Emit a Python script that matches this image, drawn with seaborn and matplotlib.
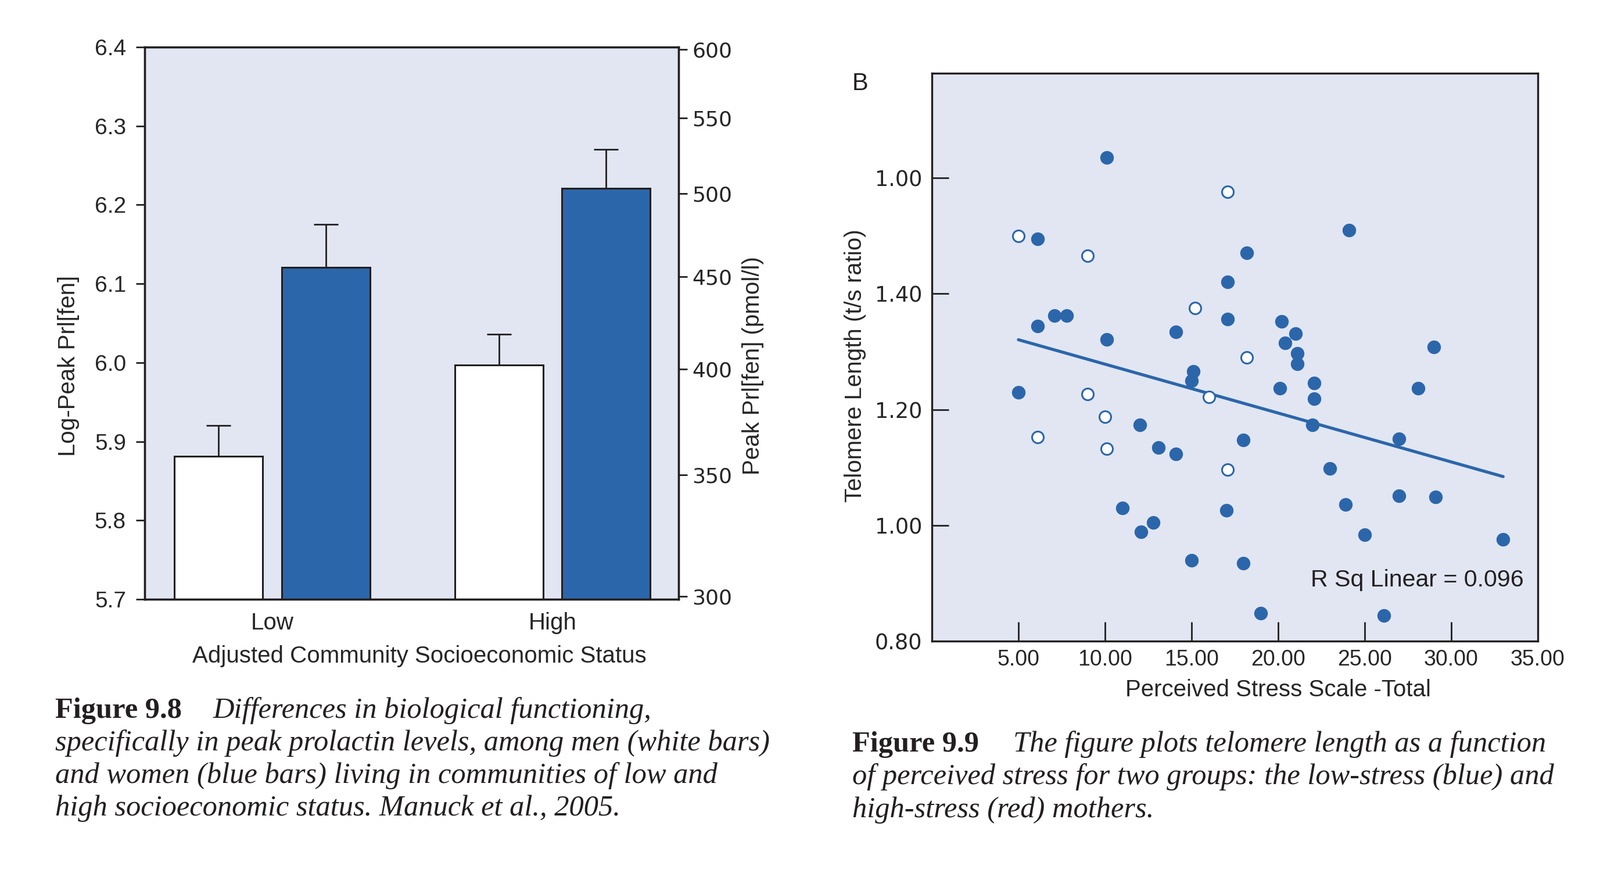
import numpy as np
import pandas as pd
import seaborn as sns
import matplotlib.pyplot as plt

# ---- Figure 9.8 : peak prolactin by community SES ----
ses = ['Low', 'Low', 'High', 'High']
sex = ['Men', 'Women', 'Men', 'Women']
log_prl = [5.881, 6.121, 5.997, 6.221]
log_prl_err = [0.039, 0.054, 0.039, 0.049]
peak_ticks = [300, 350, 400, 450, 500, 550, 600]

# ---- Figure 9.9 : telomere length vs perceived stress ----
stress_filled = [10.1, 6.1, 24.1, 18.2, 17.1, 7.1, 7.8, 6.1, 14.1, 10.1, 17.1, 20.2,
                 21.0, 20.4, 21.1, 21.1, 29.0, 15.1, 15.0, 5.0, 20.1, 22.1, 22.1, 28.1,
                 22.0, 12.0, 18.0, 27.0, 13.1, 14.1, 23.0, 11.0, 17.0, 23.9, 27.0, 29.1,
                 12.8, 12.1, 25.0, 33.0, 15.0, 18.0, 19.0, 26.1]
telomere_filled = [1.635, 1.495, 1.510, 1.471, 1.420, 1.362, 1.362, 1.344, 1.334, 1.321,
                   1.356, 1.352, 1.331, 1.315, 1.297, 1.279, 1.308, 1.266, 1.250, 1.230,
                   1.237, 1.246, 1.219, 1.237, 1.173, 1.173, 1.147, 1.149, 1.134, 1.123,
                   1.098, 1.030, 1.026, 1.036, 1.051, 1.049, 1.005, 0.989, 0.984, 0.976,
                   0.940, 0.934, 0.848, 0.844]
stress_open = [17.1, 5.0, 9.0, 15.2, 18.2, 9.0, 16.0, 10.0, 6.1, 10.1, 17.1]
telomere_open = [1.576, 1.500, 1.466, 1.375, 1.290, 1.227, 1.222, 1.188, 1.152, 1.132, 1.096]
telo_ticks = [0.80, 1.00, 1.20, 1.40, 1.60]
telo_ticklabels = ['0.80', '1.00', '1.20', '1.40', '1.00']
stress_ticks = [5, 10, 15, 20, 25, 30, 35]

blue = '#2C66AA'
panel_bg = '#E1E6F2'
ink = '#231F20'

sns.set_style('white')
plt.rcParams['font.family'] = ['Liberation Sans', 'DejaVu Sans']
narrow = ['Liberation Sans Narrow', 'Liberation Sans']
wide = ['DejaVu Sans']

fig = plt.figure(figsize=(13.77, 7.57), dpi=200)

# ---------------- left panel ----------------
ax1 = fig.add_axes([0.0904, 0.3190, 0.3337, 0.6275])
ax1.set_facecolor(panel_bg)
bars = pd.DataFrame({'ses': ses, 'sex': sex, 'log_prl': log_prl, 'err': log_prl_err})
sns.barplot(data=bars, x='ses', y='log_prl', hue='sex', order=['Low', 'High'],
            hue_order=['Men', 'Women'], palette={'Men': 'white', 'Women': blue},
            width=0.764, gap=0.175, edgecolor=ink, linewidth=1.1, errorbar=None,
            legend=False, saturation=1, ax=ax1)
for cont, s in zip(ax1.containers, ['Men', 'Women']):
    for bar, lvl in zip(cont, ['Low', 'High']):
        row = bars[(bars.sex == s) & (bars.ses == lvl)].iloc[0]
        ax1.errorbar(bar.get_x() + bar.get_width() / 2, row.log_prl,
                     yerr=[[0], [row.err]], fmt='none', ecolor=ink,
                     elinewidth=1.0, capsize=7.5, capthick=1.0, zorder=1)
ax1.set_xlim(-0.455, 1.450)
ax1.set_ylim(5.7, 6.4)
ax1.set_yticks(np.arange(5.7, 6.41, 0.1))
ax1.set_yticklabels([f'{v:.1f}' for v in np.arange(5.7, 6.41, 0.1)], fontsize=14)
ax1.tick_params(axis='y', direction='out', length=5.5, width=1, color=ink, pad=6, left=True)
ax1.tick_params(axis='x', length=0, pad=8, labelsize=14.5)
ax1.set_xlabel('Adjusted Community Socioeconomic Status', fontsize=14.5)
ax1.set_ylabel('Log-Peak Prl[fen]', fontsize=14.5)
ax1.xaxis.set_label_coords(0.515, -0.103)
ax1.xaxis.label.set_va('center')
ax1.yaxis.set_label_coords(-0.1425, 0.423)
ax1.yaxis.label.set_va('center')
for sp in ax1.spines.values():
    sp.set_color(ink)
    sp.set_linewidth(1.2)

ax1r = ax1.twinx()
ax1r.set_ylim(5.7, 6.4)
ax1r.set_yticks(np.log(peak_ticks))
ax1r.set_yticklabels([str(v) for v in peak_ticks], fontsize=13, family=wide)
ax1r.tick_params(axis='y', direction='out', length=5.5, width=1, color=ink, pad=3, right=True)
ax1r.set_ylabel('Peak Prl[fen] (pmol/l)', fontsize=14.5, family=narrow)
ax1r.yaxis.set_label_coords(1.139, 0.423)
ax1r.yaxis.label.set_va('center')
for sp in ax1r.spines.values():
    sp.set_color(ink)
    sp.set_linewidth(1.2)

# ---------------- right panel ----------------
ax2 = fig.add_axes([0.5824, 0.2715, 0.3787, 0.6453])
ax2.set_facecolor(panel_bg)
pts = pd.DataFrame({
    'stress': stress_filled + stress_open,
    'telomere': telomere_filled + telomere_open,
    'group': ['filled'] * len(stress_filled) + ['open'] * len(stress_open),
})
sns.regplot(data=pts, x='stress', y='telomere', scatter=False, ci=None, truncate=True,
            line_kws=dict(color=blue, lw=1.9), ax=ax2)
sns.scatterplot(data=pts[pts.group == 'filled'], x='stress', y='telomere',
                color=blue, edgecolor=blue, linewidth=0.8, s=58, ax=ax2, zorder=3)
sns.scatterplot(data=pts[pts.group == 'open'], x='stress', y='telomere',
                color='white', edgecolor=blue, linewidth=1.1, s=52, ax=ax2, zorder=3)
ax2.set_xlim(0, 35)
ax2.set_ylim(0.8, 1.781)
ax2.set_xticks(stress_ticks)
ax2.set_xticklabels([f'{v:.2f}' for v in stress_ticks], fontsize=13.5, family=narrow)
ax2.set_yticks(telo_ticks)
ax2.set_yticklabels(telo_ticklabels, fontsize=13.2, family=wide)
ax2.tick_params(axis='y', direction='in', length=10.5, width=1, color=ink, pad=6, left=True)
ax2.tick_params(axis='x', direction='in', length=12, width=1, color=ink, pad=5, bottom=True)
ax2.set_xlabel('Perceived Stress Scale -Total', fontsize=14.5, family=narrow)
ax2.set_ylabel('Telomere Length (t/s ratio)', fontsize=14.5, family=narrow)
ax2.xaxis.set_label_coords(0.572, -0.086)
ax2.xaxis.label.set_va('center')
ax2.yaxis.set_label_coords(-0.1266, 0.485)
ax2.yaxis.label.set_va('center')
for sp in ax2.spines.values():
    sp.set_color(ink)
    sp.set_linewidth(1.2)
ax2.text(34.2, 0.905, 'R Sq Linear = 0.096', ha='right', va='center', fontsize=14.8, color=ink)
fig.text(1480 / 2754, 1 - 144 / 1514, 'B', fontsize=15, ha='center', va='center', color=ink)

# ---------------- captions ----------------
serif = ['Liberation Serif', 'DejaVu Serif']
cap_kw = dict(fontsize=18.2, family=serif, color=ink, va='baseline')
fig.text(95 / 2754, 1 - 1235 / 1514, 'Figure 9.8', fontweight='bold', **cap_kw)
fig.text(367 / 2754, 1 - 1235 / 1514, 'Differences in biological functioning,',
         style='italic', **cap_kw)
for i, line in enumerate(['specifically in peak prolactin levels, among men (white bars)',
                          'and women (blue bars) living in communities of low and',
                          'high socioeconomic status. Manuck et al., 2005.']):
    fig.text(95 / 2754, 1 - (1291 + 56 * i) / 1514, line, style='italic', **cap_kw)

fig.text(1467 / 2754, 1 - 1293 / 1514, 'Figure 9.9', fontweight='bold', **cap_kw)
fig.text(1744 / 2754, 1 - 1293 / 1514, 'The figure plots telomere length as a function',
         style='italic', **cap_kw)
for i, line in enumerate(['of perceived stress for two groups: the low-stress (blue) and',
                          'high-stress (red) mothers.']):
    fig.text(1467 / 2754, 1 - (1349 + 57 * i) / 1514, line, style='italic', **cap_kw)

fig.savefig('out.png', dpi=200)
